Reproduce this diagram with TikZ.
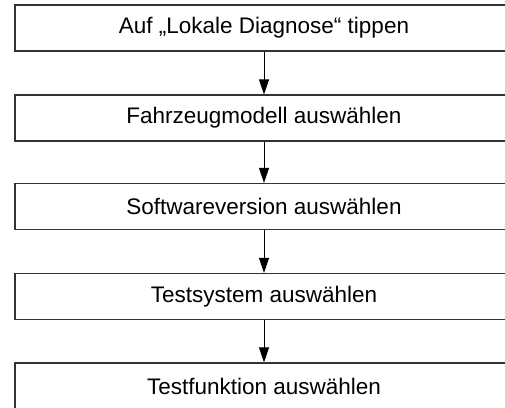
\documentclass[tikz,border=0pt]{standalone}
\usepackage{fontspec}
\setmainfont{Liberation Sans}
\usetikzlibrary{arrows.meta}
\begin{document}
\begin{tikzpicture}[x=1pt,y=-1pt,
  stepbox/.style={draw=black!80,line width=1.2pt,minimum width=498pt,minimum height=46pt,inner sep=0pt,font=\fontsize{22.5}{26}\selectfont},
  conn/.style={-{Triangle[width=10pt,length=15pt]},line width=0.9pt}]
\useasboundingbox (0,0) rectangle (505,407);
\begin{scope}
\clip (0,0) rectangle (505,407);
\node[stepbox] (b1) at (264,28) {Auf „Lokale Diagnose“ tippen};
\node[stepbox] (b2) at (264,118) {Fahrzeugmodell auswählen};
\node[stepbox] (b3) at (264,206.5) {Softwareversion auswählen};
\node[stepbox] (b4) at (264,296.5) {Testsystem auswählen};
\node[stepbox] (b5) at (264,386) {Testfunktion auswählen};
\end{scope}
\draw[conn] (b1) -- (b2);
\draw[conn] (b2) -- (b3);
\draw[conn] (b3) -- (b4);
\draw[conn] (b4) -- (b5);
\end{tikzpicture}
\end{document}
